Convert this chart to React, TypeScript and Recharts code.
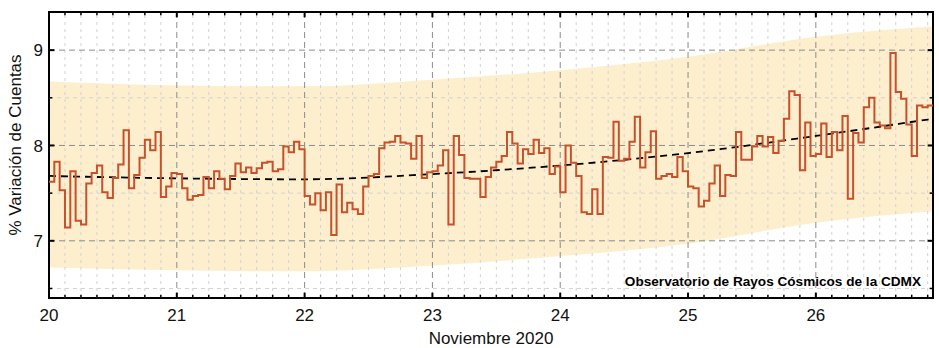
import React from 'react';
import {
  ComposedChart,
  Line,
  Area,
  XAxis,
  YAxis,
  ReferenceLine,
  ReferenceArea,
  Label,
} from 'recharts';

if (typeof document !== 'undefined') document.body.style.margin = '0';

// hourly counts variation (%), one array per day of November 2020
const NOV20 = [7.62, 7.83, 7.53, 7.14, 7.73, 7.21, 7.17, 7.6, 7.71, 7.79, 7.51, 7.45, 7.66, 7.8, 8.16, 7.55, 7.69, 7.87, 8.06, 7.95, 8.14, 7.46, 7.57, 7.71];
const NOV21 = [7.7, 7.55, 7.43, 7.47, 7.48, 7.67, 7.55, 7.73, 7.65, 7.54, 7.68, 7.81, 7.72, 7.77, 7.71, 7.76, 7.82, 7.83, 7.73, 7.75, 7.99, 7.93, 8.04, 7.96];
const NOV22 = [7.47, 7.38, 7.5, 7.32, 7.51, 7.06, 7.59, 7.3, 7.4, 7.33, 7.28, 7.57, 7.68, 7.7, 7.97, 8.03, 8.04, 8.1, 8.03, 8.02, 7.86, 8.1, 7.66, 7.72];
const NOV23 = [7.73, 7.79, 7.95, 7.17, 8.1, 7.9, 7.66, 7.65, 7.65, 7.46, 7.67, 7.77, 7.83, 7.89, 8.14, 8.02, 7.81, 7.96, 7.91, 8.06, 7.92, 7.97, 7.7, 7.78];
const NOV24 = [7.51, 8.0, 7.82, 7.68, 7.3, 7.28, 7.54, 7.28, 7.88, 7.87, 8.25, 7.84, 7.86, 8.04, 8.3, 7.77, 7.93, 8.15, 7.65, 7.68, 7.7, 7.67, 7.88, 7.73];
const NOV25 = [7.57, 7.55, 7.36, 7.42, 7.6, 7.79, 7.47, 7.69, 7.68, 8.14, 7.85, 7.85, 7.99, 8.1, 7.99, 8.09, 7.92, 8.05, 8.28, 8.57, 8.53, 7.74, 8.24, 7.89];
const NOV26 = [7.91, 8.23, 7.88, 8.14, 7.95, 8.31, 7.44, 8.13, 8.03, 8.4, 8.5, 8.24, 8.21, 8.18, 8.97, 8.56, 8.49, 8.22, 7.89, 8.42, 8.4, 8.42];

const DAYS = [20, 21, 22, 23, 24, 25, 26];
const HOURLY = [NOV20, NOV21, NOV22, NOV23, NOV24, NOV25, NOV26];

// fitted trend and its band, read at each day boundary (+ series end)
const FIT_X = [20, 21, 22, 23, 24, 25, 26, 26.9167];
const TREND = [7.68, 7.655, 7.645, 7.7, 7.79, 7.92, 8.1, 8.28];
const BAND_LOW = [6.72, 6.69, 6.68, 6.74, 6.84, 6.97, 7.19, 7.31];
const BAND_HIGH = [8.67, 8.63, 8.62, 8.69, 8.79, 8.93, 9.14, 9.25];

const Y_TICKS = [7, 8, 9];
const Y_MINOR = [6.5, 7.5, 8.5];
const X_MIN = 20;
const X_MAX = 26 + 22 / 24;
const Y_MIN = 6.4;
const Y_MAX = 9.4;

const rows: { x: number; v: number }[] = [];
HOURLY.forEach((day, d) => {
  day.forEach((v, h) => rows.push({ x: DAYS[d] + h / 24, v }));
});
// close the last hourly step at the right edge
rows.push({ x: X_MAX, v: rows[rows.length - 1].v });

const fitRows = FIT_X.map((x, i) => ({
  x,
  trend: TREND[i],
  band: [BAND_LOW[i], BAND_HIGH[i]],
}));

// 3-hour subdivisions between days
const xMinor: number[] = [];
for (let k = 1; 20 + k / 8 < X_MAX; k++) {
  if (k % 8 !== 0) xMinor.push(20 + k / 8);
}

const MAJOR_GRID = '#8c8c8c';
const MINOR_GRID = '#d2d2d2';
const STEP_COLOR = '#c6512b';
const BAND_FILL = '#fdecc8';

const xTickLen = (major: boolean) => (major ? 0.055 : 0.035);
const yTickLen = (major: boolean) => (major ? 0.042 : 0.026);

const YTitle = (props: any) => {
  const vb = props.viewBox || { x: 0, y: 12, width: 49, height: 286 };
  const cx = vb.x + 15;
  const cy = vb.y + vb.height / 2 - 10;
  return (
    <text
      x={cx}
      y={cy}
      transform={`rotate(-90, ${cx}, ${cy})`}
      textAnchor="middle"
      dominantBaseline="central"
      fontSize={17}
      fill="#111"
    >
      % Variación de Cuentas
    </text>
  );
};

export default function App() {
  return (
    <div style={{ width: 939, height: 348, fontFamily: '"Liberation Sans", Arial, sans-serif', background: '#fff' }}>
      <ComposedChart width={939} height={348} margin={{ top: 12, right: 6, left: 0, bottom: 0 }}>
        <XAxis
          dataKey="x"
          type="number"
          domain={[X_MIN, X_MAX]}
          ticks={DAYS}
          allowDataOverflow
          axisLine={false}
          tickLine={false}
          tickSize={0}
          tickMargin={11}
          height={50}
          tick={{ fontSize: 17, fill: '#111' }}
        >
          <Label value="Noviembre 2020" position="insideBottom" offset={4} fontSize={17} fill="#111" />
        </XAxis>
        <YAxis
          type="number"
          domain={[Y_MIN, Y_MAX]}
          ticks={Y_TICKS}
          allowDataOverflow
          axisLine={false}
          tickLine={false}
          tickSize={0}
          tickMargin={6}
          width={49}
          tick={{ fontSize: 17, fill: '#111' }}
        >
          <Label content={YTitle} />
        </YAxis>

        <Area
          data={fitRows}
          dataKey="band"
          type="monotone"
          stroke="none"
          fill={BAND_FILL}
          fillOpacity={0.9}
          isAnimationActive={false}
        />

        {xMinor.map((x) => (
          <ReferenceLine key={`vx${x}`} x={x} stroke={MINOR_GRID} strokeDasharray="3 4" strokeWidth={1} />
        ))}
        {Y_MINOR.map((y) => (
          <ReferenceLine key={`hy${y}`} y={y} stroke={MINOR_GRID} strokeDasharray="4 4" strokeWidth={1} />
        ))}
        {DAYS.slice(1).map((x) => (
          <ReferenceLine key={`VX${x}`} x={x} stroke={MAJOR_GRID} strokeDasharray="6 4" strokeWidth={1} />
        ))}
        {Y_TICKS.map((y) => (
          <ReferenceLine key={`HY${y}`} y={y} stroke={MAJOR_GRID} strokeDasharray="6 4" strokeWidth={1} />
        ))}

        <Line
          data={fitRows}
          dataKey="trend"
          type="monotone"
          stroke="#000"
          strokeWidth={1.8}
          strokeDasharray="7 5"
          dot={false}
          activeDot={false}
          isAnimationActive={false}
        />
        <Line
          data={rows}
          dataKey="v"
          type="stepAfter"
          stroke={STEP_COLOR}
          strokeWidth={2}
          dot={false}
          activeDot={false}
          isAnimationActive={false}
        />

        {/* inward tick marks on all four sides */}
        {[...DAYS.slice(1), ...xMinor].map((x) => {
          const major = Number.isInteger(x);
          const len = xTickLen(major);
          const w = major ? 2 : 1.5;
          return (
            <React.Fragment key={`tx${x}`}>
              <ReferenceLine segment={[{ x, y: Y_MIN }, { x, y: Y_MIN + len }]} stroke="#000" strokeWidth={w} />
              <ReferenceLine segment={[{ x, y: Y_MAX }, { x, y: Y_MAX - len }]} stroke="#000" strokeWidth={w} />
            </React.Fragment>
          );
        })}
        {[...Y_TICKS, ...Y_MINOR].map((y) => {
          const major = Number.isInteger(y);
          const len = yTickLen(major);
          const w = major ? 2 : 1.5;
          return (
            <React.Fragment key={`ty${y}`}>
              <ReferenceLine segment={[{ x: X_MIN, y }, { x: X_MIN + len, y }]} stroke="#000" strokeWidth={w} />
              <ReferenceLine segment={[{ x: X_MAX, y }, { x: X_MAX - len, y }]} stroke="#000" strokeWidth={w} />
            </React.Fragment>
          );
        })}

        <ReferenceArea
          x1={X_MIN}
          x2={X_MAX}
          y1={Y_MIN}
          y2={Y_MAX}
          fill="none"
          fillOpacity={0}
          stroke="#000"
          strokeWidth={2}
        >
          <Label
            value="Observatorio de Rayos Cósmicos de la CDMX"
            position="insideBottomRight"
            offset={12}
            fontSize={13.6}
            fontWeight="bold"
            fill="#000"
          />
        </ReferenceArea>
      </ComposedChart>
    </div>
  );
}
